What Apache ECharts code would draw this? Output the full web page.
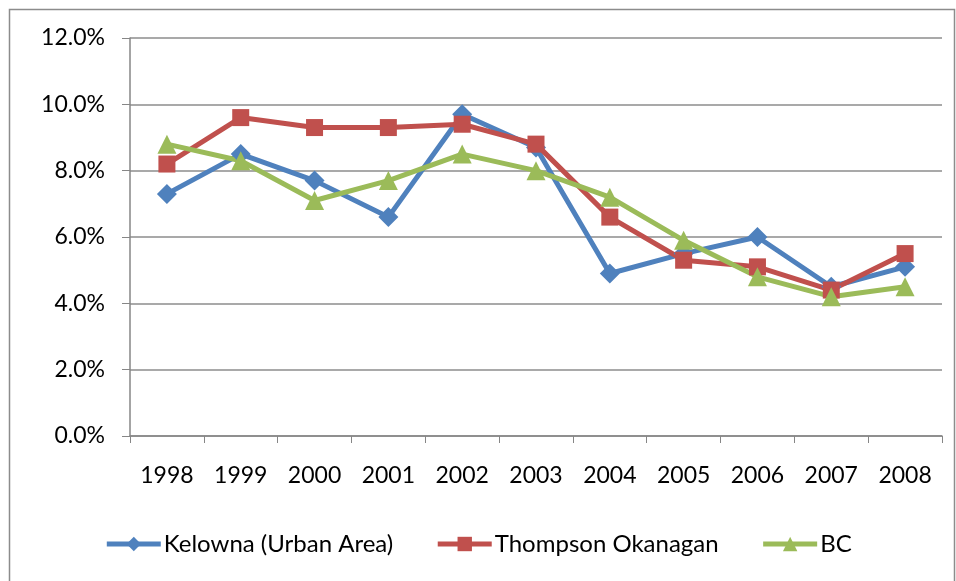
<!DOCTYPE html>
<html>
<head>
<meta charset="utf-8">
<script src="https://cdn.jsdelivr.net/npm/echarts@6/dist/echarts.min.js"></script>
<style>
  html, body { margin: 0; padding: 0; background: #fff; }
  #main { width: 956px; height: 581px; }
</style>
</head>
<body>
<div id="main"></div>
<script>
var years = ['1998', '1999', '2000', '2001', '2002', '2003', '2004', '2005', '2006', '2007', '2008'];
var kelowna = [7.3, 8.5, 7.7, 6.6, 9.7, 8.7, 4.9, 5.5, 6.0, 4.5, 5.1];
var thompson = [8.2, 9.6, 9.3, 9.3, 9.4, 8.8, 6.6, 5.3, 5.1, 4.4, 5.5];
var bc = [8.8, 8.3, 7.1, 7.7, 8.5, 8.0, 7.2, 5.9, 4.8, 4.2, 4.5];

var myChart = echarts.init(document.getElementById('main'));

var font = 'Lato, "Open Sans", sans-serif';

function line(name, data, color, symbol, size) {
    return {
        name: name,
        type: 'line',
        data: data,
        symbol: symbol,
        symbolSize: size,
        lineStyle: { color: color, width: 5 },
        itemStyle: { color: color },
        animation: false
    };
}

var option = {
    graphic: [{
        type: 'rect',
        shape: { x: 9.5, y: 9.5, width: 945, height: 580 },
        style: { fill: null, stroke: '#8c8c8c', lineWidth: 1.5 },
        silent: true
    }],
    grid: { left: 130, right: 14, top: 38, bottom: 145 },
    xAxis: {
        type: 'category',
        data: years,
        boundaryGap: true,
        axisLine: { lineStyle: { color: '#868686', width: 1.5 } },
        axisTick: { show: true, length: 7, interval: 0, lineStyle: { color: '#868686' } },
        axisLabel: { color: '#000', fontSize: 23, fontFamily: font, margin: 28 }
    },
    yAxis: {
        type: 'value',
        min: 0,
        max: 12,
        interval: 2,
        axisLine: { show: true, lineStyle: { color: '#868686', width: 1.5 } },
        axisTick: { show: true, length: 8, inside: false, lineStyle: { color: '#868686' } },
        axisLabel: {
            color: '#000', fontSize: 23, fontFamily: font, margin: 25,
            formatter: function (v) { return v.toFixed(1) + '%'; }
        },
        splitLine: { lineStyle: { color: '#8c8c8c', width: 1.5 } }
    },
    legend: {
        bottom: 20,
        left: 'center',
        itemWidth: 54,
        itemHeight: 18,
        itemGap: 42,
        lineStyle: { width: 5 },
        textStyle: { color: '#000', fontSize: 24, fontFamily: font, padding: [0, 0, 0, -2] },
        data: ['Kelowna (Urban Area)', 'Thompson Okanagan', 'BC']
    },
    series: [
        line('Kelowna (Urban Area)', kelowna, '#4F81BD', 'diamond', 20),
        line('Thompson Okanagan', thompson, '#C0504D', 'rect', 17),
        line('BC', bc, '#9BBB59', 'triangle', 19)
    ]
};

myChart.setOption(option);
</script>
</body>
</html>
